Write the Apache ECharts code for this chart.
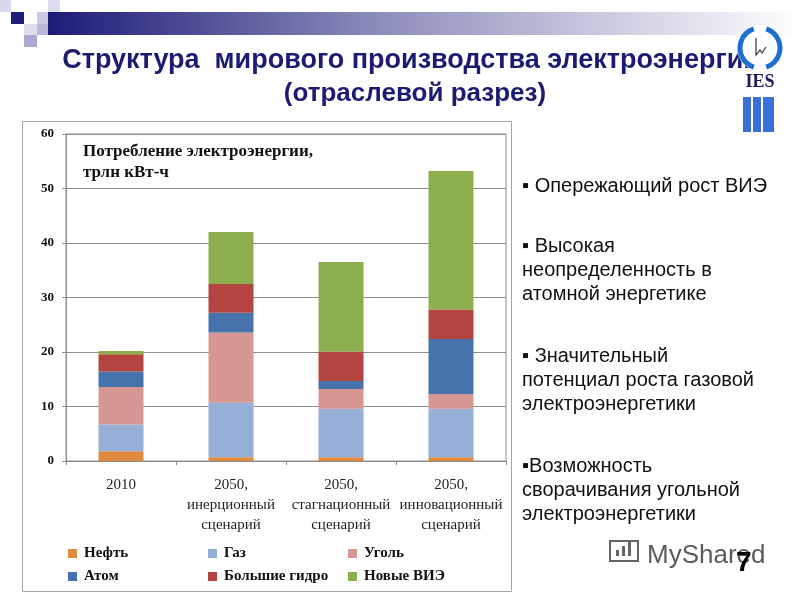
<!DOCTYPE html>
<html>
<head>
<meta charset="utf-8">
<script src="https://cdn.jsdelivr.net/npm/echarts@6/dist/echarts.min.js"></script>
<style>html,body{margin:0;padding:0;background:#fff;}#c{width:800px;height:600px;}</style>
</head>
<body>
<div id="c"></div>
<script>
const categories = ['2010', '2050,\nинерционный\nсценарий', '2050,\nстагнационный\nсценарий', '2050,\nинновационный\nсценарий'];
const seriesNames = ['Нефть', 'Газ', 'Уголь', 'Атом', 'Большие гидро', 'Новые ВИЭ'];
const oil     = [1.8, 0.7, 0.7, 0.7];
const gas     = [4.9, 10.0, 8.9, 8.9];
const coal    = [6.9, 12.9, 3.6, 2.7];
const nuclear = [2.8, 3.6, 1.5, 10.1];
const hydro   = [3.2, 5.3, 5.4, 5.4];
const newRes  = [0.6, 9.5, 16.4, 25.4];
const yTicks = [0, 10, 20, 30, 40, 50, 60];
const titleLines = ['Структура  мирового производства электроэнергии', '(отраслевой разрез)'];
const annotation = 'Потребление электроэнергии,\nтрлн кВт-ч';
const bullets = [
  '▪ Опережающий рост ВИЭ',
  '▪ Высокая\nнеопределенность в\nатомной энергетике',
  '▪ Значительный\nпотенциал роста газовой\nэлектроэнергетики',
  '▪Возможность\nсворачивания угольной\nэлектроэнергетики'
];

const values = [oil, gas, coal, nuclear, hydro, newRes];
const colors = ['#E08A3E', '#95AFD6', '#D69694', '#4773AD', '#B3443F', '#8DAE4D'];
const serif = '"Liberation Serif","Times New Roman",serif';
const sans = '"Liberation Sans",Arial,sans-serif';

const legendPos = [[68, 546], [208, 546], [348, 546], [68, 569], [208, 569], [348, 569]];

const chart = echarts.init(document.getElementById('c'));

const graphics = [];
const sq = [
  [0, 0, 11, 12, '#d9d9ec'], [48, 0, 12, 12, '#dcdcee'],
  [11, 12, 13, 12, '#1f1f7a'], [37, 12, 11, 12, '#c9c9e3'],
  [24, 24, 13, 11, '#dedeef'], [37, 24, 11, 11, '#b8b8da'],
  [24, 35, 13, 12, '#a9a9d2']
];
sq.forEach(s => graphics.push({type:'rect', shape:{x:s[0], y:s[1], width:s[2], height:s[3]}, style:{fill:s[4]}}));
graphics.push({type:'rect', shape:{x:48, y:12, width:752, height:23},
  style:{fill:new echarts.graphic.LinearGradient(0,0,1,0,[{offset:0,color:'#1c1c78'},{offset:0.45,color:'#8f8fbd'},{offset:1,color:'#ffffff'}])}});
graphics.push({type:'text', style:{text:titleLines[0], x:411, y:61, font:'bold 27px ' + sans, fill:'#1b1b72', align:'center', textAlign:'center', verticalAlign:'middle', textVerticalAlign:'middle'}});
graphics.push({type:'text', style:{text:titleLines[1], x:415, y:94, font:'bold 26px ' + sans, fill:'#1b1b72', align:'center', textAlign:'center', verticalAlign:'middle', textVerticalAlign:'middle'}});
graphics.push({type:'circle', shape:{cx:760, cy:48, r:23}, style:{fill:'#ffffff'}});
graphics.push({type:'arc', shape:{cx:760, cy:48, r:20, startAngle:Math.PI*0.6, endAngle:Math.PI*1.4}, style:{stroke:'#1e6fcf', lineWidth:5, fill:null}});
graphics.push({type:'arc', shape:{cx:760, cy:48, r:20, startAngle:-Math.PI*0.4, endAngle:Math.PI*0.4}, style:{stroke:'#1e6fcf', lineWidth:5, fill:null}});
graphics.push({type:'polyline', shape:{points:[[756,38],[756,55],[760,50],[762,53],[766,47]]}, style:{stroke:'#333', lineWidth:1.2, fill:null}});
graphics.push({type:'text', style:{text:'IES', x:760, y:82, font:'bold 18px ' + serif, fill:'#1a1a5e', align:'center', textAlign:'center', verticalAlign:'middle', textVerticalAlign:'middle'}});
[[743,8],[753,8],[763,11]].forEach(b => graphics.push({type:'rect', shape:{x:b[0], y:97, width:b[1], height:35}, style:{fill:'#3b6fd9'}}));
graphics.push({type:'rect', shape:{x:22.5, y:121.5, width:489, height:470}, style:{fill:null, stroke:'#a6a6a6', lineWidth:1}, z:-1});
graphics.push({type:'text', style:{text:annotation, x:83, y:141, font:'bold 17px ' + serif, lineHeight:21, fill:'#111'}});
const bulletTops = [174, 234, 344, 454];
bullets.forEach((b, i) => graphics.push({type:'text', style:{text:b, x:522, y:bulletTops[i], font:'20px ' + sans, lineHeight:24, fill:'#111'}}));
graphics.push({type:'rect', shape:{x:610, y:541, width:28, height:20}, style:{fill:null, stroke:'#666', lineWidth:2}});
[[616,6],[622,10],[628,14]].forEach(b => graphics.push({type:'rect', shape:{x:b[0], y:556-b[1], width:3, height:b[1]}, style:{fill:'#666'}}));
graphics.push({type:'text', style:{text:'MyShared', x:647, y:556, font:'26px ' + sans, fill:'#5c5c5c', verticalAlign:'middle', textVerticalAlign:'middle'}});
graphics.push({type:'text', style:{text:'7', x:736, y:563, font:'bold 28px ' + sans, fill:'#000', verticalAlign:'middle', textVerticalAlign:'middle'}});

const legends = seriesNames.map((n, i) => ({
  data:[n], left:legendPos[i][0], top:legendPos[i][1], icon:'rect', itemWidth:9, itemHeight:9,
  selectedMode:false, padding:0,
  textStyle:{fontFamily:serif, fontWeight:'bold', fontSize:15, color:'#111', padding:[0,0,0,2]}
}));

chart.setOption({
  animation:false,
  backgroundColor:'#ffffff',
  color:colors,
  grid:{left:66, right:294, top:134, bottom:139, show:true, borderColor:'#8c8c8c', borderWidth:1},
  legend:legends,
  xAxis:{type:'category', data:categories,
    axisLine:{lineStyle:{color:'#8c8c8c'}},
    axisTick:{show:true, length:4, lineStyle:{color:'#8c8c8c'}},
    axisLabel:{interval:0, margin:14, fontFamily:serif, fontSize:15, lineHeight:20, color:'#222'}},
  yAxis:{type:'value', min:yTicks[0], max:yTicks[yTicks.length-1], interval:10,
    axisLine:{show:true, lineStyle:{color:'#8c8c8c'}},
    axisTick:{show:true, length:4, lineStyle:{color:'#8c8c8c'}},
    splitLine:{lineStyle:{color:'#8c8c8c'}},
    axisLabel:{margin:12, fontFamily:serif, fontWeight:'bold', fontSize:13, color:'#111'}},
  series:seriesNames.map((n, i) => ({name:n, type:'bar', stack:'total', barWidth:45, data:values[i]})),
  graphic:graphics
});
</script>
</body>
</html>
